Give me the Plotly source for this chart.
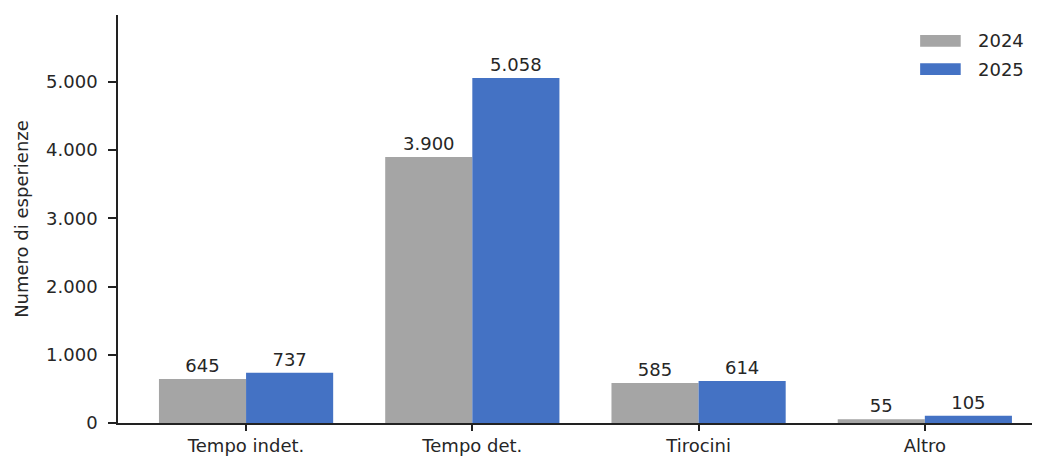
import plotly.graph_objects as go

categories = ["Tempo indet.", "Tempo det.", "Tirocini", "Altro"]
years = ["2024", "2025"]
values_2024 = [645, 3900, 585, 55]
values_2025 = [737, 5058, 614, 105]
colors = ["#a5a5a5", "#4472c4"]
y_ticks = [0, 1000, 2000, 3000, 4000, 5000]

FONT = "DejaVu Sans"
TXT = "#262626"
FS = 18

fig = go.Figure()
for name, vals, col in zip(years, [values_2024, values_2025], colors):
    fig.add_trace(go.Bar(
        x=categories, y=vals, name=name, marker=dict(color=col, line=dict(width=0)),
        texttemplate="%{y:,d}", textposition="outside", cliponaxis=False,
        textfont=dict(family=FONT, size=FS, color=TXT), showlegend=False,
    ))

# custom legend (wide patches like the reference)
leg_y = [(0.951, 0.922), (0.882, 0.853)]
for (y1, y0), name, col in zip(leg_y, years, colors):
    fig.add_shape(type="rect", xref="paper", yref="paper", x0=0.870, x1=0.914,
                  y0=y0, y1=y1, fillcolor=col, line=dict(width=0))
    fig.add_annotation(xref="paper", yref="paper", x=0.931, y=(y0 + y1) / 2,
                       text=name, showarrow=False, xanchor="left", yanchor="middle",
                       font=dict(family=FONT, size=FS, color=TXT))

fig.update_layout(
    width=1032, height=448,
    margin=dict(l=110, r=0, t=7, b=33),
    paper_bgcolor="white", plot_bgcolor="white",
    barmode="group", bargap=0.23, bargroupgap=0,
    separators=",.",
    font=dict(family=FONT, size=FS, color=TXT),
    xaxis=dict(
        range=[-0.566, 3.509], showline=True, linecolor="#222", linewidth=1.5,
        ticks="outside", ticklen=6, tickwidth=1.5, tickcolor="#222",
        showgrid=False, zeroline=False, automargin=False,
        tickfont=dict(family=FONT, size=FS, color=TXT),
    ),
    yaxis=dict(
        range=[0, 5982], tickvals=y_ticks, tickformat=",d",
        showline=True, linecolor="#222", linewidth=1.5,
        ticks="outside", ticklen=8, tickwidth=1.5, tickcolor="#222",
        ticklabelstandoff=7,
        showgrid=False, zeroline=False,
        tickfont=dict(family=FONT, size=FS, color=TXT),
        title=dict(text="Numero di esperienze", font=dict(family=FONT, size=FS, color=TXT), standoff=13),
    ),
)

fig.write_html("out.html")
